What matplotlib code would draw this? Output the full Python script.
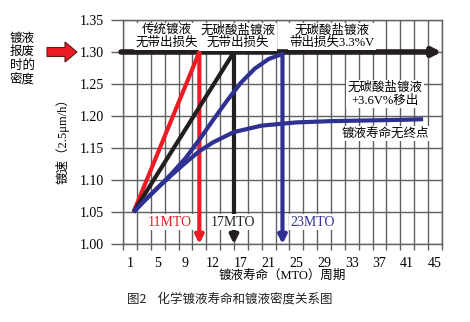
import matplotlib.pyplot as plt
from matplotlib.patches import FancyArrow

plt.rcParams['font.family'] = ['Liberation Serif', 'Noto Sans CJK SC']

RED = '#ed1c24'
BLACK = '#231f20'
BLUE = '#2e3192'
GRID = '#5f6064'

# traditional bath: straight rise, dumped at 11 MTO
red_x = [1.5, 11]
red_y = [1.05, 1.30]

# carbonate-free bath, no drag-out: dumped at 17 MTO
black_x = [1.5, 16]
black_y = [1.05, 1.30]

# carbonate-free bath with 3.3%V drag-out
blue_x = [1.5, 3, 5, 7, 9, 11, 13, 15, 17, 19, 21, 23]
blue_y = [1.05, 1.067, 1.088, 1.11, 1.134, 1.163, 1.194, 1.224, 1.252, 1.274, 1.289, 1.297]

# carbonate-free bath with +3.6V% removal: no end of life
flat_x = [1.5, 3, 5, 7, 9, 11, 13, 16, 20, 25, 30, 35, 40, 43.3]
flat_y = [1.05, 1.067, 1.088, 1.108, 1.127, 1.145, 1.159, 1.175, 1.185, 1.19, 1.192, 1.193, 1.194, 1.195]

x_ticks = list(range(0, 47, 2))
x_label_pos = [1, 5, 9, 13, 17, 21, 25, 29, 33, 37, 41, 45]
x_labels = ['1', '5', '9', '12', '17', '21', '25', '29', '33', '37', '41', '45']
y_ticks = [1.00, 1.05, 1.10, 1.15, 1.20, 1.25, 1.30, 1.35]

fig, ax = plt.subplots(figsize=(4.7, 3.22), dpi=100)
fig.subplots_adjust(left=0.262, right=0.940, bottom=0.242, top=0.938)

ax.set_xlim(0, 46)
ax.set_ylim(1.00, 1.35)
ax.set_xticks(x_ticks)
ax.set_xticklabels([])
ax.set_xticks(x_label_pos, minor=True)
ax.set_xticklabels(x_labels, minor=True)
ax.set_yticks(y_ticks)
ax.set_yticklabels(['%.2f' % v for v in y_ticks])
ax.tick_params(axis='x', which='major', direction='out', length=4, color=GRID, width=1)
ax.tick_params(axis='x', which='minor', length=0, pad=9, labelsize=10)
ax.tick_params(axis='y', direction='out', length=9, color=GRID, width=1, pad=5, labelsize=10)

# grid drawn as plain line collections at the tick positions
ax.vlines(x_ticks, 0, 1, transform=ax.get_xaxis_transform(), colors=GRID, linewidth=1, zorder=2)
ax.hlines(y_ticks, 0, 1, transform=ax.get_yaxis_transform(), colors=GRID, linewidth=1, zorder=2)
for s in ax.spines.values():
    s.set_color(GRID)
    s.set_linewidth(1)

# dump-density line
ax.annotate('', xy=(46, 1.30), xytext=(-0.3, 1.30),
            arrowprops=dict(arrowstyle='-|>', lw=4, color=BLACK, mutation_scale=12,
                            shrinkA=0, shrinkB=0), zorder=3, annotation_clip=False)

for xs, ys, c in [(red_x, red_y, RED), (black_x, black_y, BLACK), (blue_x, blue_y, BLUE)]:
    ax.plot(xs, ys, color=c, lw=3, zorder=4, solid_capstyle='butt')
    ax.annotate('', xy=(xs[-1], 1.0), xytext=(xs[-1], ys[-1]),
                arrowprops=dict(arrowstyle='-|>', lw=3, color=c, mutation_scale=12,
                                shrinkA=0, shrinkB=0), zorder=4)
ax.plot(flat_x, flat_y, color=BLUE, lw=3, zorder=5, solid_capstyle='butt')

box = dict(facecolor='white', edgecolor='none', pad=1)
ax.text(6.8, 1.034, '11MTO', color=RED, ha='center', va='center', fontsize=10, bbox=box, zorder=6)
ax.text(15.9, 1.034, '17MTO', color=BLACK, ha='center', va='center', fontsize=10, bbox=box, zorder=6)
ax.text(27.4, 1.034, '23MTO', color=BLUE, ha='center', va='center', fontsize=10, bbox=box, zorder=6)

ax.text(6.3, 1.324, '传统镀液\n无带出损失', ha='center', va='center', fontsize=9,
        linespacing=1.05, bbox=box, zorder=6)
ax.text(16.6, 1.324, '无碳酸盐镀液\n无带出损失', ha='center', va='center', fontsize=9,
        linespacing=1.05, bbox=box, zorder=6)
ax.text(30.2, 1.324, '无碳酸盐镀液\n带出损失3.3%V', ha='center', va='center', fontsize=9,
        linespacing=1.05, bbox=box, zorder=6)
ax.text(37.8, 1.234, '无碳酸盐镀液\n+3.6V%移出', ha='center', va='center', fontsize=9,
        linespacing=1.1, bbox=box, zorder=6)
ax.text(37.8, 1.173, '镀液寿命无终点', ha='center', va='center', fontsize=9, bbox=box, zorder=6)

fig.text(0.134, 0.572, '镀速（2.5μm/h）', rotation=90, ha='center', va='center', fontsize=9)
fig.text(0.600, 0.145, '镀液寿命（MTO）周期', ha='center', va='center', fontsize=9)
fig.text(0.047, 0.817, '镀液\n报废\n时的\n密度', ha='center', va='center', fontsize=9,
         linespacing=1.15)
fig.text(0.488, 0.071, '图2    化学镀液寿命和镀液密度关系图', ha='center', va='center',
         fontsize=9, family='Noto Sans CJK SC', color='#222222')

arrow = FancyArrow(0.47, 2.70, 0.30, 0, width=0.09, head_width=0.2, head_length=0.12,
                   length_includes_head=True, facecolor=RED, edgecolor='#5a1a1a', lw=0.8,
                   transform=fig.dpi_scale_trans)
fig.patches.append(arrow)

fig.savefig('out.png', dpi=100)
